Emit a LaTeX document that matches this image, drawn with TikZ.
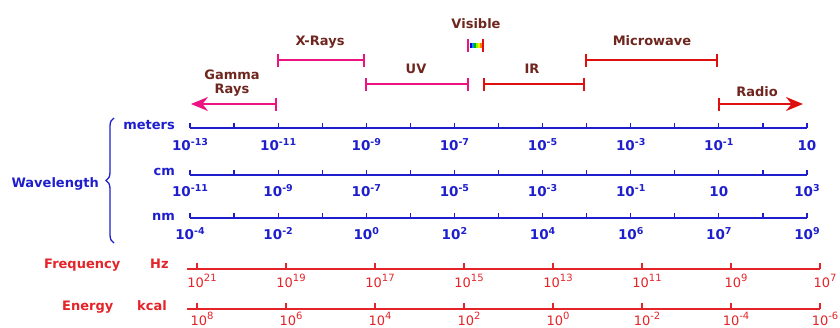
\documentclass[tikz,border=0pt]{standalone}
\usepackage{fontspec}
\setmainfont{DejaVu Sans}
\usetikzlibrary{arrows.meta,decorations.pathreplacing}

\definecolor{scaleblue}{RGB}{30,30,205}
\definecolor{bandpink}{RGB}{236,20,128}
\definecolor{bandred}{RGB}{222,16,16}
\definecolor{bandbrown}{RGB}{110,38,30}
\definecolor{freqred}{RGB}{228,36,40}

% powers of ten, bold (wavelength) and plain (frequency, energy)
\newcommand{\tenb}[1]{10\raisebox{5pt}{\fontsize{9.5}{9}\selectfont\bfseries #1}}
\newcommand{\tenr}[1]{10\raisebox{5.5pt}{\fontsize{10}{9}\selectfont #1}}

\begin{document}
\begin{tikzpicture}[x=1pt,y=-1pt]

  \tikzset{bandend/.tip={Bar[width=13pt]}, bandhead/.tip={Stealth[length=17pt,width=14pt]}}
  \tikzstyle{every node}=[inner sep=0pt]
  \tikzstyle{band}=[line width=2pt]
  \tikzstyle{bandlabel}=[text=bandbrown, font=\fontsize{13}{14}\selectfont\bfseries, align=center]
  \tikzstyle{wavaxis}=[scaleblue, line width=1.2pt]
  \tikzstyle{wavlabel}=[text=scaleblue, font=\fontsize{13}{14}\selectfont\bfseries]
  \tikzstyle{wavnum}=[text=scaleblue, font=\fontsize{13.5}{14}\selectfont\bfseries, anchor=base]
  \tikzstyle{redaxis}=[freqred, line width=1.2pt]
  \tikzstyle{redlabel}=[text=freqred, font=\fontsize{13}{14}\selectfont\bfseries, anchor=base west]
  \tikzstyle{rednum}=[text=freqred, font=\fontsize{13}{14}\selectfont, anchor=base]

  \useasboundingbox (0,0) rectangle (840,327);

  %%% spectrum bands

  \coordinate (g1) at (191,104);  \coordinate (g2) at (277,104);
  \coordinate (x1) at (277,60);   \coordinate (x2) at (365,60);
  \coordinate (u1) at (365,84);   \coordinate (u2) at (469,84);
  \coordinate (i1) at (483,84);   \coordinate (i2) at (585,84);
  \coordinate (w1) at (585,60);   \coordinate (w2) at (718,60);
  \coordinate (r1) at (718,104);  \coordinate (r2) at (803,104);

  \draw [band, bandpink, bandhead-bandend] (g1) -- (g2);
  \draw [band, bandpink, bandend-bandend] (x1) -- (x2);
  \draw [band, bandpink, bandend-bandend] (u1) -- (u2);
  \draw [band, bandred, bandend-bandend] (i1) -- (i2);
  \draw [band, bandred, bandend-bandend] (w1) -- (w2);
  \draw [band, bandred, bandend-bandhead] (r1) -- (r2);

  % visible light: a small rainbow between two caps
  \foreach \c [count=\i from 0] in {blue!90!black, cyan!80!blue, green!70!black, green!50!yellow, yellow!90!orange, orange}
    \fill [\c] (469.5+2*\i,42.5) rectangle ++(2,5);
  \draw [band, bandpink] (468,38.5) -- (468,51.5);
  \draw [band, bandred] (483,38.5) -- (483,51.5);

  \node [bandlabel] (gamma) at (232,83) {Gamma\\Rays};
  \node [bandlabel, anchor=base] (xray) at (320,45) {X-Rays};
  \node [bandlabel, anchor=base] (uv) at (416,73) {UV};
  \node [bandlabel, anchor=base] (visible) at (476,28) {Visible};
  \node [bandlabel, anchor=base] (ir) at (532,73) {IR};
  \node [bandlabel, anchor=base] (micro) at (652,45) {Microwave};
  \node [bandlabel, anchor=base] (radio) at (757,96) {Radio};

  %%% wavelength scales

  \foreach \row/\ypos in {m/128,c/175,n/218}
  {
    \coordinate (\row start) at (190,\ypos);
    \coordinate (\row end) at (807,\ypos);
    \draw [wavaxis] (\row start) -- (\row end);
    \foreach \k in {0,...,14}
      \draw [wavaxis] (190+44.07*\k,\ypos) -- ++(0,-5);
  }

  \foreach \k/\lab in {0/\tenb{-13},2/\tenb{-11},4/\tenb{-9},6/\tenb{-7},8/\tenb{-5},10/\tenb{-3},12/\tenb{-1},14/10}
    \node [wavnum] (m\k) at (190+44.07*\k,150) {\lab};
  \foreach \k/\lab in {0/\tenb{-11},2/\tenb{-9},4/\tenb{-7},6/\tenb{-5},8/\tenb{-3},10/\tenb{-1},12/10,14/\tenb{3}}
    \node [wavnum] (c\k) at (190+44.07*\k,196) {\lab};
  \foreach \k/\lab in {0/\tenb{-4},2/\tenb{-2},4/\tenb{0},6/\tenb{2},8/\tenb{4},10/\tenb{6},12/\tenb{7},14/\tenb{9}}
    \node [wavnum] (n\k) at (190+44.07*\k,239) {\lab};

  \node [wavlabel, anchor=base east] (meters) at (175,129) {meters};
  \node [wavlabel, anchor=base east] (cm) at (175,175) {cm};
  \node [wavlabel, anchor=base east] (nm) at (175,220) {nm};
  \node [wavlabel, anchor=base east] (wave) at (99,187) {Wavelength};

  \coordinate (btop) at (114,118);
  \coordinate (bbot) at (114,243);
  \draw [scaleblue, line width=1.3pt, decorate, decoration={brace, amplitude=8pt}] (bbot) -- (btop);

  %%% frequency and energy scales

  \foreach \row/\ypos in {f/269,e/309}
  {
    \coordinate (\row start) at (187,\ypos);
    \coordinate (\row end) at (820,\ypos);
    \draw [redaxis] (\row start) -- (\row end);
    \foreach \k in {0,...,7}
      \draw [redaxis] (197+89*\k,\ypos) -- ++(0,-6);
  }

  \foreach \k/\e in {0/21,1/19,2/17,3/15,4/13,5/11,6/9,7/7}
    \node [rednum] (f\k) at (202+89*\k,287) {\tenr{\e}};
  \foreach \k/\e in {0/8,1/6,2/4,3/2,4/0,5/-2,6/-4,7/-6}
    \node [rednum] (e\k) at (202+89*\k,325) {\tenr{\e}};

  \node [redlabel] (freq) at (44,268) {Frequency};
  \node [redlabel] (hz) at (150,268) {Hz};
  \node [redlabel] (energy) at (62,310) {Energy};
  \node [redlabel] (kcal) at (137,310) {kcal};

\end{tikzpicture}
\end{document}
